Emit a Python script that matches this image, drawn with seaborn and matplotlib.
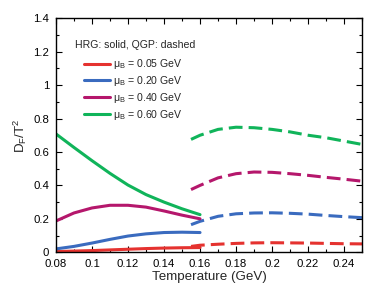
"""Diffusion coefficient D_F/T^2 vs temperature, HRG (solid) and QGP (dashed)."""

import matplotlib
matplotlib.use("Agg")
import matplotlib.pyplot as plt
import pandas as pd
import seaborn as sns
from matplotlib.ticker import MultipleLocator, FormatStrFormatter

# ---- data ----
mu_labels = ["0.05", "0.20", "0.40", "0.60"]
colors = ["#e5322f", "#3a6bbf", "#b5176c", "#10b45a"]

t_hrg = [0.08, 0.09, 0.10, 0.11, 0.12, 0.13, 0.14, 0.15, 0.16]
hrg_005 = [0.004, 0.007, 0.010, 0.014, 0.018, 0.022, 0.025, 0.027, 0.028]
hrg_020 = [0.020, 0.035, 0.055, 0.077, 0.097, 0.110, 0.118, 0.120, 0.118]
hrg_040 = [0.187, 0.235, 0.265, 0.281, 0.281, 0.270, 0.247, 0.222, 0.200]
hrg_060 = [0.708, 0.627, 0.548, 0.472, 0.402, 0.345, 0.300, 0.260, 0.225]

t_qgp = [0.155, 0.16, 0.17, 0.18, 0.19, 0.20, 0.21, 0.22, 0.23, 0.24, 0.25]
qgp_005 = [0.035, 0.042, 0.048, 0.053, 0.056, 0.057, 0.056, 0.055, 0.053, 0.051, 0.050]
qgp_020 = [0.165, 0.185, 0.215, 0.230, 0.235, 0.236, 0.233, 0.228, 0.220, 0.213, 0.207]
qgp_040 = [0.375, 0.400, 0.445, 0.470, 0.480, 0.478, 0.470, 0.460, 0.448, 0.437, 0.425]
qgp_060 = [0.675, 0.700, 0.735, 0.748, 0.745, 0.735, 0.720, 0.700, 0.685, 0.665, 0.645]

hrg = [hrg_005, hrg_020, hrg_040, hrg_060]
qgp = [qgp_005, qgp_020, qgp_040, qgp_060]

sns.set_style("ticks")
plt.rcParams["font.family"] = ["Liberation Sans", "DejaVu Sans"]
plt.rcParams["mathtext.fontset"] = "custom"
plt.rcParams["mathtext.rm"] = "Liberation Sans"
plt.rcParams["mathtext.it"] = "Liberation Sans:italic"

fig = plt.figure(figsize=(3.78, 2.94), dpi=100)
ax = fig.add_axes([0.148, 0.142, 0.810, 0.796])

for i, mu in enumerate(mu_labels):
    df_h = pd.DataFrame({"T": t_hrg, "D": hrg[i]})
    df_q = pd.DataFrame({"T": t_qgp, "D": qgp[i]})
    sns.lineplot(data=df_h, x="T", y="D", ax=ax, color=colors[i], lw=2.2,
                 label=f"μ$_\\mathrm{{B}}$ = {mu} GeV")
    sns.lineplot(data=df_q, x="T", y="D", ax=ax, color=colors[i], lw=2.2,
                 ls=(0, (4.5, 2.0)), label="_nolegend_")

ax.set_xlim(0.08, 0.25)
ax.set_ylim(0, 1.4)
ax.xaxis.set_major_locator(MultipleLocator(0.02))
ax.xaxis.set_minor_locator(MultipleLocator(0.01))
ax.yaxis.set_major_locator(MultipleLocator(0.2))
ax.yaxis.set_minor_locator(MultipleLocator(0.1))
ax.xaxis.set_major_formatter(FormatStrFormatter("%g"))
ax.yaxis.set_major_formatter(FormatStrFormatter("%g"))
ax.tick_params(which="both", direction="in", top=True, right=True,
               labelsize=8.2, colors="black", width=0.8)
ax.tick_params(axis="x", pad=5)
ax.tick_params(axis="y", pad=5)
ax.tick_params(which="major", length=4)
ax.tick_params(which="minor", length=2.5)
for s in ax.spines.values():
    s.set_linewidth(1.0)
    s.set_color("black")

ax.set_xlabel("Temperature (GeV)", fontsize=9.6, labelpad=1)
ax.set_ylabel(r"D$_\mathrm{F}$/T$^2$", fontsize=9.6, labelpad=3)

ax.text(0.062, 0.885, "HRG: solid, QGP: dashed", transform=ax.transAxes,
        fontsize=7.6, va="center", ha="left")
ax.legend(loc="upper left", bbox_to_anchor=(0.09, 0.833), frameon=False,
          fontsize=7.6, handlelength=2.5, handletextpad=0.3,
          labelspacing=0.26, borderpad=0, borderaxespad=0)

fig.savefig("out.png", dpi=100)
